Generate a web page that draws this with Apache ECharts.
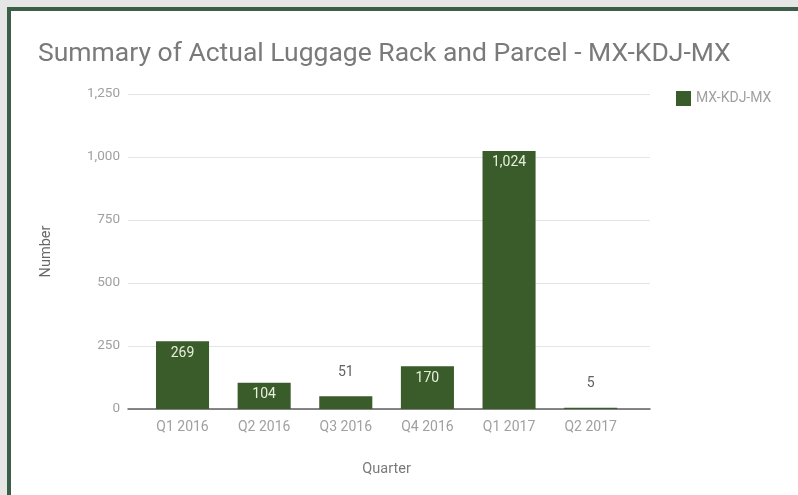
<!DOCTYPE html>
<html>
<head>
<meta charset="utf-8">
<script src="https://cdn.jsdelivr.net/npm/echarts@6/dist/echarts.min.js"></script>
<style>
  html, body { margin: 0; padding: 0; background: #e6e6e6; width: 798px; height: 495px; overflow: hidden; }
  #frame { position: absolute; left: 7px; top: 7px; width: 791px; height: 488px; background: #fff;
           border-left: 4px solid #3b5e48; border-top: 4px solid #3b5e48; box-sizing: border-box; }
  #chart { position: absolute; left: 0; top: 0; width: 798px; height: 495px; }
</style>
</head>
<body>
<div id="frame"></div>
<div id="chart"></div>
<script>
const categories = ['Q1 2016', 'Q2 2016', 'Q3 2016', 'Q4 2016', 'Q1 2017', 'Q2 2017'];
const values = [269, 104, 51, 170, 1024, 5];
const seriesName = 'MX-KDJ-MX';
const yTicks = [0, 250, 500, 750, 1000, 1250];

const barColor = '#3a5b2a';
const fmt = v => v.toLocaleString('en-US');

const barData = values.map(v => {
  const inside = v >= 100;
  return {
    value: v,
    label: inside
      ? { position: 'insideTop', color: '#e6efdc', distance: 5 }
      : { position: 'top', color: '#616161', distance: 17 }
  };
});

const chart = echarts.init(document.getElementById('chart'));
chart.setOption({
  backgroundColor: 'transparent',
  animation: false,
  textStyle: { fontFamily: 'Roboto' },
  title: {
    text: 'Summary of Actual Luggage Rack and Parcel - MX-KDJ-MX',
    left: 33, top: 36,
    textStyle: { fontFamily: 'Roboto', fontSize: 26.5, fontWeight: 'normal', color: '#7a7a7a' }
  },
  legend: {
    data: [seriesName],
    left: 671, top: 86,
    itemWidth: 15, itemHeight: 15, itemGap: 8,
    icon: 'rect',
    textStyle: { fontFamily: 'Roboto', fontSize: 14, color: '#a0a0a0' }
  },
  grid: [
    { left: 128, right: 148, top: 94, bottom: 86 },
    { left: 141.7, right: 166.5, top: 94, bottom: 86 }
  ],
  xAxis: [
    {
      gridIndex: 0, type: 'value', min: 0, max: 1,
      axisLine: { show: true, onZero: false, lineStyle: { color: '#5f5f5f', width: 1.5 } },
      axisTick: { show: false }, axisLabel: { show: false }, splitLine: { show: false }
    },
    {
      gridIndex: 1, type: 'category', data: categories,
      axisLine: { show: false }, axisTick: { show: false },
      axisLabel: { color: '#a0a0a0', fontSize: 14, margin: 11, fontFamily: 'Roboto' },
      name: 'Quarter', nameLocation: 'middle', nameGap: 53,
      nameTextStyle: { color: '#7a7a7a', fontSize: 14.5, fontFamily: 'Roboto' }
    }
  ],
  yAxis: [
    {
      gridIndex: 0, type: 'value', min: yTicks[0], max: yTicks[yTicks.length - 1], interval: 250,
      axisLine: { show: false }, axisTick: { show: false },
      axisLabel: { color: '#a0a0a0', fontSize: 13.5, margin: 8, formatter: v => fmt(v) },
      splitLine: { lineStyle: { color: '#e4e4e4', width: 1 } },
      name: 'Number', nameLocation: 'middle', nameGap: 74, nameRotate: 90,
      nameTextStyle: { color: '#666666', fontSize: 14.5, fontFamily: 'Roboto' }
    },
    {
      gridIndex: 1, type: 'value', min: yTicks[0], max: yTicks[yTicks.length - 1], interval: 250,
      show: false
    }
  ],
  series: [
    {
      name: seriesName, type: 'bar',
      xAxisIndex: 1, yAxisIndex: 1,
      data: barData,
      barWidth: '65%',
      itemStyle: { color: barColor },
      label: {
        show: true, fontSize: 14, fontFamily: 'Roboto',
        formatter: p => fmt(p.value)
      }
    }
  ]
});
</script>
</body>
</html>
